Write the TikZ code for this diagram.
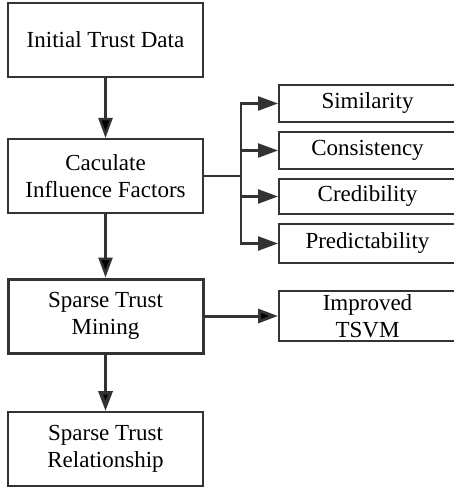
\documentclass[tikz,border=0pt]{standalone}
\usepackage{fontspec}
\setmainfont{Liberation Serif}
\usetikzlibrary{arrows.meta}

\begin{document}
\begin{tikzpicture}[x=1pt,y=-1pt,line width=2.4pt,
  stepbox/.style={shape=rectangle,draw=black!80,line width=2pt,inner sep=0pt,align=center,font=\rmfamily\fontsize{23}{27}\selectfont},
  leftbox/.style={stepbox,minimum width=195pt,minimum height=74pt},
  factbox/.style={stepbox,minimum width=177pt},
  arr/.style={-{Triangle[length=20pt,width=14pt]},draw=black!80}]
\useasboundingbox (0,0) rectangle (454,492);

\node[leftbox] (init) at (105.5,40){Initial Trust Data};
\node[leftbox] (calc) at (105.5,176){Caculate\\Influence Factors};
\node[leftbox,line width=3pt] (mine) at (105.5,316){Sparse Trust\\Mining};
\node[leftbox] (rel) at (105.5,449){Sparse Trust\\Relationship};

\node[factbox,minimum height=37pt] (sim) at (367.5,103.5){Similarity};
\node[factbox,minimum height=37pt] (cons) at (367.5,150.5){Consistency};
\node[factbox,minimum height=35pt] (cred) at (367.5,196.5){Credibility};
\node[factbox,minimum height=39pt] (pred) at (367.5,243.5){Predictability};
\node[factbox,minimum height=50pt] (tsvm) at (367.5,316){Improved\\TSVM};

\coordinate (fork) at (241,176);
\coordinate (f1) at (241,103.5);
\coordinate (f2) at (241,150.5);
\coordinate (f3) at (241,196.5);
\coordinate (f4) at (241,243.5);

\path [arr] (init) edge (calc);
\path [arr] (calc) edge (mine);
\path [arr,line width=3.5pt] (mine) edge (rel);
\path [arr,line width=3pt] (mine) edge (tsvm);

\draw [black!80] (calc) -- (fork);
\draw [black!80,line cap=rect] (f1) -- (f4);
\draw [arr] (f1) -- (sim); \draw [arr] (f2) -- (cons);
\draw [arr] (f3) -- (cred); \draw [arr] (f4) -- (pred);
\end{tikzpicture}
\end{document}
